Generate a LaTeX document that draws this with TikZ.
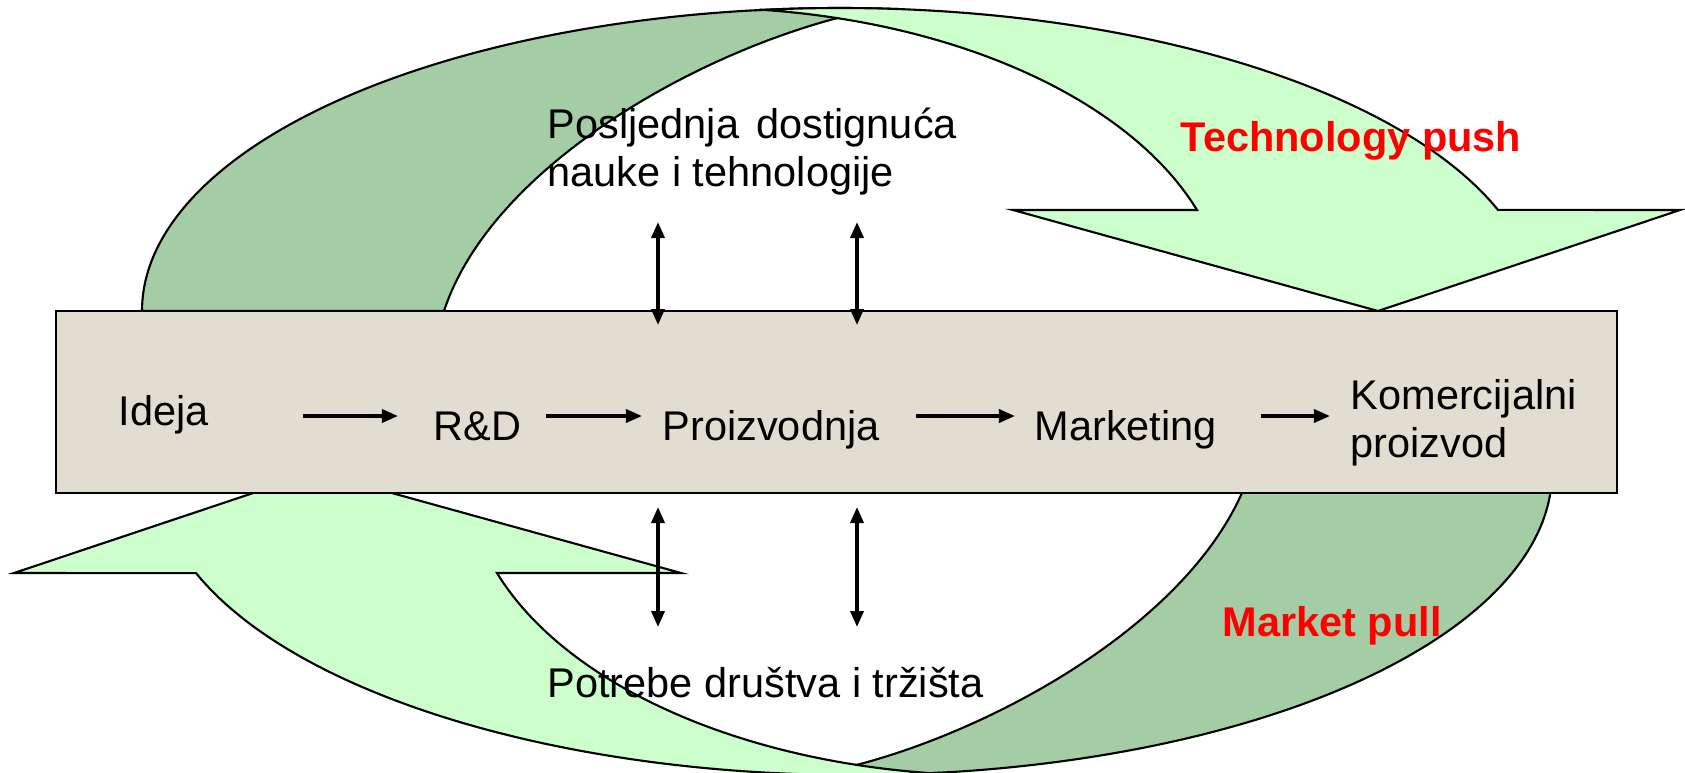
\documentclass[tikz,border=0pt]{standalone}
\usepackage{fontspec}
\setmainfont{Liberation Sans}
\usetikzlibrary{arrows.meta}

\definecolor{bandlight}{RGB}{204,255,204}
\definecolor{banddark}{RGB}{165,205,165}
\definecolor{boxbeige}{RGB}{226,221,209}

% one curved band arrow, as it stands at the top
\newcommand{\bandarrow}{%
  \filldraw[band, fill=banddark]
    (840,311) ++(-180:698 and 303)
    arc[start angle=-180, end angle=-85, x radius=698, y radius=303]
    -- (836.4,18.3) .. controls (686,58) and (490,171) .. (444,311) -- cycle;
  \filldraw[band, fill=bandlight]
    (840,311) ++(-96.6:698 and 303)
    arc[start angle=-96.6, end angle=-19.5, x radius=698, y radius=303]
    -- (1680,210) -- (1378,311) -- (1013,210) -- (1197,210)
    arc[start angle=-19.4, end angle=-83.4, x radius=527, y radius=303]
    -- cycle;
}

\begin{document}
\begin{tikzpicture}[x=0.01cm, y=-0.01cm,
  band/.style={draw=black, line width=0.6pt},
  stage/.style={inner sep=0pt, font=\fontsize{11.8}{13.6}\selectfont},
  driver/.style={inner sep=0pt, text=red, font=\fontsize{11.8}{13.6}\selectfont\bfseries},
  flow/.style={-{Triangle[length=0.16cm,width=0.13cm]}, line width=1pt},
  link/.style={{Triangle[length=0.16cm,width=0.13cm]}-{Triangle[length=0.16cm,width=0.13cm]}, line width=1pt}]
  \clip (0,0) rectangle (1685,772);

  % technology push
  \bandarrow
  % market pull
  \begin{scope}[rotate around={180:(847,391.5)}]
    \bandarrow
  \end{scope}

  % chain
  \filldraw[fill=boxbeige, line width=0.8pt] (56,311) rectangle (1617,493);
  \node[stage, anchor=base west] (ideja) at (118,425) {Ideja};
  \node[stage, anchor=base west] (rd) at (433,440) {R\&D};
  \node[stage, anchor=base west] (proiz) at (662,440) {Proizvodnja};
  \node[stage, anchor=base west] (mark) at (1034,440) {Marketing};
  \node[stage, anchor=north west, align=left] (komerc) at (1350,379) {Komercijalni\\proizvod};

  \coordinate (row) at (0,416);
  \draw[flow, shorten <=0.94cm, shorten >=0.35cm] (ideja.east |- row) -- (rd.west |- row);
  \draw[flow, shorten <=0.24cm, shorten >=0.20cm] (rd.east |- row) -- (proiz.west |- row);
  \draw[flow, shorten <=0.36cm, shorten >=0.19cm] (proiz.east |- row) -- (mark.west |- row);
  \draw[flow, shorten <=0.43cm, shorten >=0.20cm] (mark.east |- row) -- (komerc.west |- row);

  % science above, society below
  \node[stage, anchor=north west, align=left] (nauka) at (547,107) {Posljednja\hspace{0.41em}dostignuća\\nauke i tehnologije};
  \node[stage, anchor=base west] (potrebe) at (547,697) {Potrebe društva i tržišta};

  \foreach \x/\k in {658/l,857/r} {
    \coordinate (sci\k) at (\x,222);
    \coordinate (top\k) at (\x,325);
    \coordinate (bot\k) at (\x,507);
    \coordinate (soc\k) at (\x,627);
    \draw[link] (sci\k) -- (top\k);
    \draw[link] (bot\k) -- (soc\k);
  }

  % labels
  \node[driver, anchor=base west] (tpush) at (1180,151) {Technology push};
  \node[driver, anchor=base west] (mpull) at (1222,636) {Market pull};
\end{tikzpicture}
\end{document}
